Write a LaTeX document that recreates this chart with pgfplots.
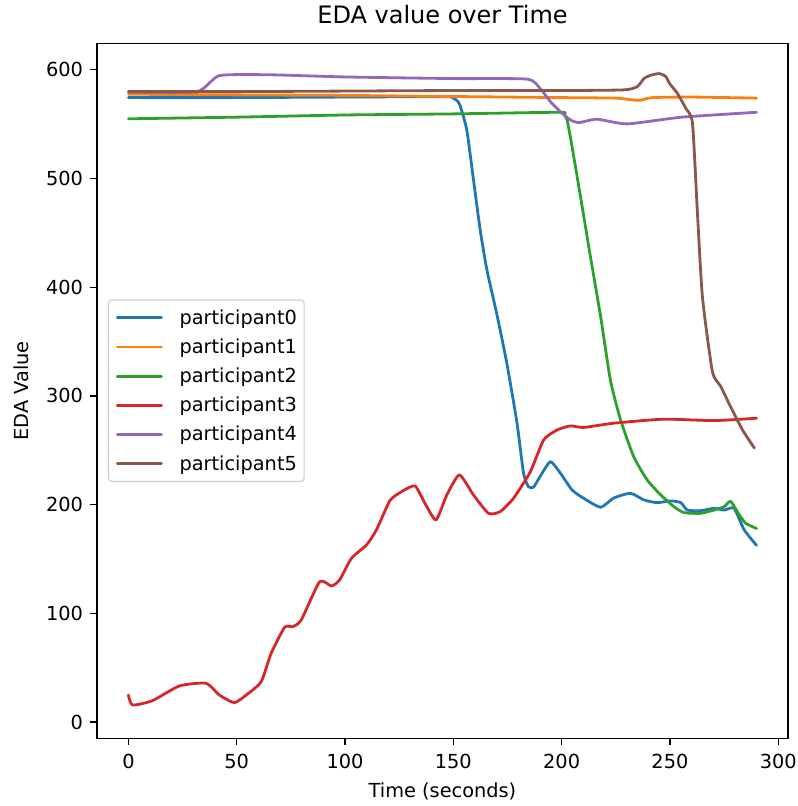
\documentclass[border=0pt]{standalone}
\usepackage{fontspec}
\setmainfont{DejaVu Sans}
\usepackage{pgfplots}
\pgfplotsset{compat=1.18}
\definecolor{c0}{HTML}{1F77B4}
\definecolor{c1}{HTML}{FF7F0E}
\definecolor{c2}{HTML}{2CA02C}
\definecolor{c3}{HTML}{D62728}
\definecolor{c4}{HTML}{9467BD}
\definecolor{c5}{HTML}{8C564B}
\begin{document}
\begin{tikzpicture}
\begin{axis}[
  at={(0pt,0pt)}, anchor=south west,
  scale only axis,
  width=518.25pt, height=521.25pt,
  xmin=-14.5, xmax=304.5, ymin=-15, ymax=624.5,
  xtick={0,50,100,150,200,250,300},
  ytick={0,100,200,300,400,500,600},
  tick align=outside, tick pos=left,
  major tick length=5pt,
  axis line style={line width=0.9pt},
  every tick/.style={black, line width=0.9pt},
  /pgf/number format/assume math mode=true,
  ticklabel style={font=\fontsize{14.5}{17}\selectfont},
  yticklabel shift=2pt,
  xticklabel shift=3.5pt,
  title={EDA value over Time},
  title style={font=\fontsize{18}{21}\selectfont, at={(axis description cs:0.5,1.0167)}, anchor=base},
  xlabel={Time (seconds)},
  xlabel style={font=\fontsize{14.5}{17}\selectfont, at={(axis description cs:0.5,-0.0859)}, anchor=base},
  ylabel={EDA Value},
  ylabel style={font=\fontsize{14.5}{17}\selectfont, at={(axis description cs:-0.0998,0.5)}, anchor=base, rotate=0},
  legend cell align=left,
  legend style={at={(axis description cs:0.0159,0.5)}, anchor=west, draw=black!20, line width=0.8pt,
    rounded corners=2.5pt, fill=white, font=\fontsize{14.5}{17}\selectfont,
    nodes={inner sep=0pt}, row sep=9.4pt, column sep=12.5pt,
    inner xsep=5.5pt, inner ysep=7pt},
  legend image code/.code={\draw[#1, line width=2.1pt, sharp plot] (0pt,0pt) -- (33.2pt,0pt);},
  every axis plot/.append style={line width=2.1pt, line join=round, line cap=round, smooth, tension=0.35},
]
\addplot[c0] coordinates {(0,574.5)(50,574.5)(100,575)(145,575.4)(149,575)(151.5,572)(153,567.8)(156.2,544.8)(159.3,498.8)(162.4,452.7)(165.5,416)(170,376)(174.7,330)(179.4,275)(182.4,229)(184.7,216.5)(187,216)(190,225.7)(194.8,239.5)(199.4,229)(204.8,213.5)(210,206)(218,197.6)(224,206)(231.8,210.4)(238,204.3)(244,201.8)(250.3,203.4)(255,201.8)(258,195)(264,194.4)(270.4,196.6)(275,195)(279.6,196.6)(284.3,176.7)(290,162.5)};
\addlegendentry{participant0}
\addplot[c1] coordinates {(0,577.6)(50,577)(100,576.5)(150,575.5)(200,574.5)(225,574)(232,572.5)(236,572)(242,574.5)(260,575)(290,574)};
\addlegendentry{participant1}
\addplot[c2] coordinates {(0,555)(50,556.5)(100,558.5)(150,559.5)(199,561)(201,559)(202.5,554)(204.8,529.4)(208.7,483.4)(213.3,428)(218,373)(222.5,314.7)(227.2,278)(233.3,244)(239.5,222.7)(245.7,209)(251.9,198)(256.5,192.6)(264.2,192)(270.4,195)(275,198)(278,203)(282,190.5)(285,182.8)(290,178)};
\addlegendentry{participant2}
\addplot[c3] coordinates {(0,24.8)(1.9,15.6)(11.1,19.6)(23.5,33.1)(35.8,35.6)(42,24.8)(48.9,17.8)(54.4,24.8)(61.3,37.1)(65.9,63.2)(72.1,87.1)(75.9,87.7)(79.8,93.9)(88.3,129.1)(93.7,125.1)(97.5,130.7)(103,150.6)(109.9,162.9)(114.5,176.7)(120.7,203.6)(126.1,211.9)(132.3,217.2)(136.9,201.2)(142,185.9)(147,208.9)(152.8,227.3)(159.3,208.9)(166.2,192)(171.6,193.5)(177.8,205.9)(185.5,230)(191.7,259.5)(197.9,268.7)(204,272.4)(210.2,271)(224,274.9)(247.2,278.6)(270.4,277.3)(290,279.5)};
\addlegendentry{participant3}
\addplot[c4] coordinates {(0,579.8)(31.6,580)(42,594.7)(65,595.5)(100,593.5)(150,592)(184,591.5)(190,583)(194.8,570.8)(199.4,561.6)(204,554)(207.9,551.5)(216.4,554.6)(230.3,550.3)(255,556.4)(290,561)};
\addlegendentry{participant4}
\addplot[c5] coordinates {(0,580)(50,580)(100,580.5)(150,581)(200,581)(228.7,581.6)(234.9,584.6)(238,592)(241,595)(245,596.6)(248,594)(250,587)(253.4,578.5)(257.3,564.7)(260.4,551)(262.7,468)(265,391)(269.6,322.4)(273.5,308.6)(278,290)(283.5,268.7)(289,252)};
\addlegendentry{participant5}
\end{axis}
\pgfresetboundingbox
\useasboundingbox (-72.75pt,-50.8pt) rectangle (525pt,553.7pt);
\end{tikzpicture}
\end{document}
